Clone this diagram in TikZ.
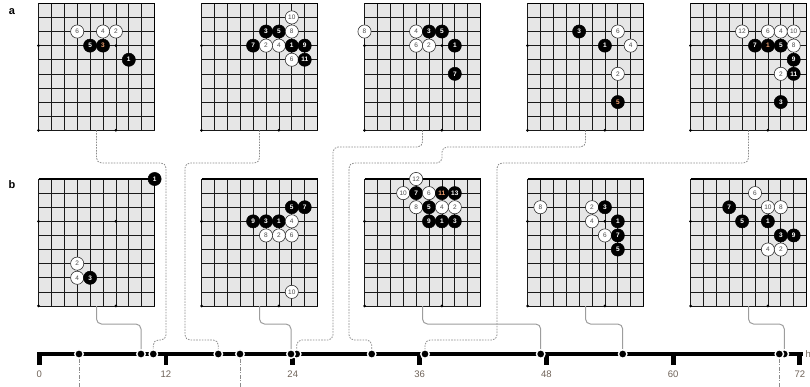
\documentclass[tikz,border=0pt]{standalone}
\usepackage{fontspec}
\setmainfont{Liberation Sans}
\usetikzlibrary{positioning}

\definecolor{boardgrey}{HTML}{E6E6E6}
\definecolor{linkgrey}{HTML}{8C8C8C}
\definecolor{ticktext}{HTML}{6E6258}
\definecolor{hlnum}{HTML}{F0A070}

% corner of a Go board: name, left, top, stones c/r/n, marked stones c/r/n
\newcommand{\goboard}[5]{%
  \begin{scope}[shift={(#2,#3)}]
    \fill[boardgrey] (0,0) rectangle (116.1,127);
    \foreach \c in {0,...,9} \draw[gridline] (\c*12.9,0) -- (\c*12.9,127);
    \foreach \r in {0,...,9} \draw[gridline] (0,\r*14.11) -- (116.1,\r*14.11);
    \draw[boardedge] (0,0) -- (116.1,0) -- (116.1,127);
    \foreach \c/\r in {0/3,6/3,0/9,6/9} \fill (\c*12.9,\r*14.11) circle (1.5pt);
    \foreach \c/\r/\n in {#4}{%
      \ifodd\n\relax \node[bstone] at (\c*12.9,\r*14.11) {\n};
      \else \node[wstone] at (\c*12.9,\r*14.11) {\n};\fi}
    \foreach \c/\r/\n in {#5} \node[bstone, text=hlnum] at (\c*12.9,\r*14.11) {\n};
    \coordinate (#1) at (58,127);
  \end{scope}}

\begin{document}
\begin{tikzpicture}[
  x=1pt, y=-1pt,
  gridline/.style={black!90, line width=0.7pt},
  boardedge/.style={black, line width=1.5pt},
  bstone/.style={circle, fill=black, draw=black, line width=0.5pt, minimum size=13.2pt, inner sep=0pt, text=white, font=\fontsize{6.5}{6.5}\selectfont\bfseries},
  wstone/.style={circle, fill=white, draw=black!80, line width=0.6pt, minimum size=13.2pt, inner sep=0pt, text=black!70, font=\fontsize{6.5}{6.5}\selectfont},
  panel/.style={font=\fontsize{11}{11}\selectfont\bfseries},
  timebar/.style={black, line width=4.5pt},
  tickmark/.style={black, line width=4.8pt},
  ticklabel/.style={text=ticktext, font=\fontsize{9.5}{9.5}\selectfont},
  tdot/.style={circle, fill=black, draw=white, line width=1.4pt, minimum size=8.5pt, inner sep=0pt},
  dashlink/.style={draw=linkgrey, line width=0.8pt, dash pattern=on 1.6pt off 1.2pt, rounded corners=5pt},
  solidlink/.style={draw=linkgrey!85, line width=1pt, rounded corners=5pt},
  dashdotlink/.style={draw=linkgrey, line width=0.8pt, dash pattern=on 4pt off 1.5pt on 1pt off 1.5pt}
]
\useasboundingbox (0,0) rectangle (810,386);

\node[panel] (la) at (12,12) {a};
\node[panel] (lb) at (12,185) {b};

% row a
\goboard{A1}{38.5}{3.3}{3/2/6, 5/2/4, 6/2/2, 4/3/5, 7/4/1}{5/3/3}
\goboard{A2}{201.5}{3.3}{7/1/10, 5/2/3, 6/2/5, 7/2/8, 4/3/7, 5/3/2, 6/3/4, 7/3/1, 8/3/9, 7/4/6, 8/4/11}{}
\goboard{A3}{364.5}{3.3}{0/2/8, 4/2/4, 5/2/3, 6/2/5, 4/3/6, 5/3/2, 7/3/1, 7/5/7}{}
\goboard{A4}{527.5}{3.3}{4/2/3, 7/2/6, 6/3/1, 8/3/4, 7/5/2}{7/7/5}
\goboard{A5}{690.5}{3.3}{4/2/12, 6/2/6, 7/2/4, 8/2/10, 5/3/7, 7/3/5, 8/3/8, 8/4/9, 7/5/2, 8/5/11, 7/7/3}{6/3/1}

% row b
\goboard{B1}{38.5}{179}{9/0/1, 3/6/2, 3/7/4, 4/7/3}{}
\goboard{B2}{201.5}{179}{7/2/5, 8/2/7, 4/3/9, 5/3/3, 6/3/1, 7/3/4, 5/4/8, 6/4/2, 7/4/6, 7/8/10}{}
\goboard{B3}{364.5}{179}{4/0/12, 3/1/10, 4/1/7, 5/1/6, 7/1/13, 4/2/8, 5/2/5, 6/2/4, 7/2/2, 5/3/9, 6/3/1, 7/3/3}{6/1/11}
\goboard{B4}{527.5}{179}{1/2/8, 5/2/2, 6/2/3, 5/3/4, 7/3/1, 6/4/6, 7/4/7, 7/5/5}{}
\goboard{B5}{690.5}{179}{5/1/6, 3/2/7, 6/2/10, 7/2/8, 4/3/5, 6/3/1, 7/4/3, 8/4/9, 6/5/4, 7/5/2}{}

% time axis (hours)
\draw[timebar] (37,354) -- (803,354);
\foreach \h in {0,12,...,72}{
  \draw[tickmark] (39.2+\h*10.565,354) -- (39.2+\h*10.565,365);
  \node[ticklabel] at (39.2+\h*10.565,374) {\h};}
\node[ticklabel, anchor=west, inner sep=0pt] (unit) at (805.5,354) {h};

\coordinate (d1end) at (79,392);
\coordinate (d5end) at (240,392);
\coordinate (d12end) at (779.3,392);

% links
\draw[dashlink] (A1) |- (166,163) |- (153.3,340) -- (153.3,354);
\draw[dashlink] (A2) |- (185,163) |- (218.3,340) -- (218.3,354);
\draw[dashlink] (A3) |- (333,147) |- (296.7,340) -- (296.7,354);
\draw[dashlink] (A4) |- (442,147) |- (349,163) |- (371.7,340) -- (371.7,354);
\draw[dashlink] (A5) |- (497,163) |- (425,340) -- (425,354);
\draw[solidlink] (B1) |- (141,324) -- (141,354);
\draw[solidlink] (B2) |- (291,324) -- (291,354);
\draw[solidlink] (B3) |- (540.7,324) -- (540.7,354);
\draw[solidlink] (B4) |- (622.7,324) -- (622.7,354);
\draw[solidlink] (B5) |- (784.3,324) -- (784.3,354);

% events on the axis
\node[tdot] (d1) at (79,354) {};
\node[tdot] (d2) at (141,354) {};
\node[tdot] (d3) at (153.3,354) {};
\node[tdot] (d4) at (218.3,354) {};
\node[tdot] (d5) at (240,354) {};
\node[tdot] (d7) at (296.7,354) {};
\node[tdot] (d6) at (291,354) {};
\node[tdot] (d8) at (371.7,354) {};
\node[tdot] (d9) at (425,354) {};
\node[tdot] (d10) at (540.7,354) {};
\node[tdot] (d11) at (622.7,354) {};
\node[tdot] (d13) at (784.3,354) {};
\node[tdot] (d12) at (779.3,354) {};

\draw[dashdotlink] (d1) -- (d1end);
\draw[dashdotlink] (d5) -- (d5end);
\draw[dashdotlink] (d12) -- (d12end);
\end{tikzpicture}
\end{document}
